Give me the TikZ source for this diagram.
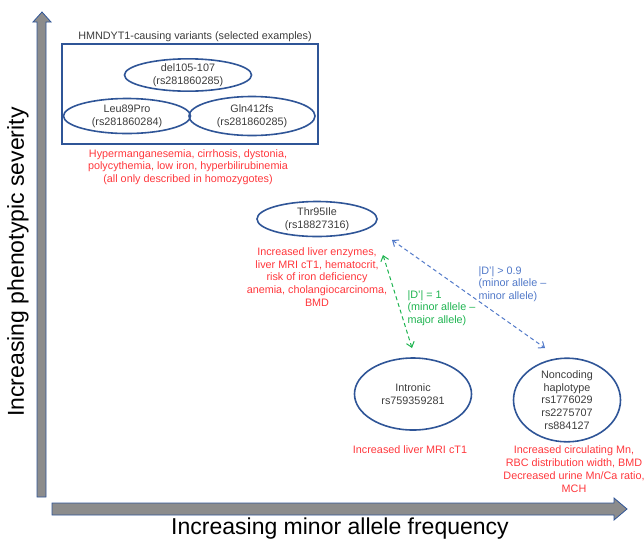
\documentclass[tikz,border=0pt]{standalone}
\usepackage{fontspec}
\setmainfont{Liberation Sans}
\usetikzlibrary{shapes.geometric,arrows.meta}
\definecolor{dblue}{RGB}{47,85,151}
\definecolor{txtred}{RGB}{255,55,60}
\definecolor{dgreen}{RGB}{30,180,80}
\definecolor{lblue}{RGB}{80,120,200}
\definecolor{axgray}{RGB}{140,140,140}
\definecolor{txtgray}{RGB}{60,60,60}
\tikzset{
  variant/.style={ellipse, draw=dblue, line width=1.6pt, inner sep=0pt, align=center, text=txtgray, font=\fontsize{10.8}{12.8}\selectfont},
  redtxt/.style={text=txtred, align=center, font=\fontsize{10.8}{12.8}\selectfont},
  ldlabel/.style={align=left, anchor=west, font=\fontsize{10.8}{12.6}\selectfont},
  ldarrow/.style={dashed, line width=1pt, dash pattern=on 4pt off 3pt, {Straight Barb[length=5pt,width=8pt]}-{Straight Barb[length=5pt,width=8pt]}},
  axis/.style={fill=axgray, draw=dblue, line width=0.8pt},
  axlabel/.style={font=\fontsize{23}{27}\selectfont, text=black}
}
\begin{document}
\begin{tikzpicture}[x=1pt,y=-1pt]
\useasboundingbox (0,0) rectangle (644,542);
% axes
\draw[axis] (37,497) -- (37,22) -- (33,22) -- (42,12) -- (51,22) -- (46,22) -- (46,497) -- cycle;
\draw[axis] (52,503) -- (614,503) -- (614,498) -- (627,509) -- (614,520) -- (614,515) -- (52,515) -- cycle;
\node[axlabel, rotate=90] (ylab) at (18,262) {Increasing phenotypic severity};
\node[axlabel] (xlab) at (340,529) {Increasing minor allele frequency};
% HMNDYT1 box
\node[font=\fontsize{10.8}{12}\selectfont, text=txtgray] (title) at (195,37) {HMNDYT1-causing variants (selected examples)};
\node[draw=dblue, line width=1.6pt, minimum width=256pt, minimum height=100pt, inner sep=0pt] (box) at (190,94) {};
\node[variant, minimum width=127pt, minimum height=31pt] (del) at (188,75) {del105-107\\(rs281860285)};
\node[variant, minimum width=127pt, minimum height=35pt] (leu) at (127,116) {Leu89Pro\\(rs281860284)};
\node[variant, minimum width=126pt, minimum height=39pt] (gln) at (252,116) {Gln412fs\\(rs281860285)};
\node[redtxt] (hmtxt) at (188,167) {Hypermanganesemia, cirrhosis, dystonia,\\polycythemia, low iron, hyperbilirubinemia\\(all only described in homozygotes)};
% Thr95Ile
\node[variant, minimum width=120pt, minimum height=35pt] (thr) at (317,219) {Thr95Ile\\(rs18827316)};
\node[redtxt] (thrtxt) at (317,277) {Increased liver enzymes,\\liver MRI cT1, hematocrit,\\risk of iron deficiency\\anemia, cholangiocarcinoma,\\BMD};
% Intronic
\node[variant, minimum width=117pt, minimum height=72pt] (intr) at (413,394) {Intronic\\rs759359281};
\node[redtxt] (intrtxt) at (410,450) {Increased liver MRI cT1};
% Noncoding
\node[variant, minimum width=107pt, minimum height=76pt] (nonc) at (567,400) {Noncoding\\haplotype\\rs1776029\\rs2275707\\rs884127};
\node[redtxt] (nonctxt) at (574,469) {Increased circulating Mn,\\RBC distribution width, BMD\\Decreased urine Mn/Ca ratio,\\MCH};
% LD arrows
\coordinate (gA) at (383,255);
\coordinate (gB) at (412,348);
\coordinate (bA) at (392,240);
\coordinate (bB) at (545,348);
\draw[ldarrow, draw=dgreen] (gA) -- (gB);
\draw[ldarrow, draw=lblue] (bA) -- (bB);
\node[ldlabel, text=dgreen] (glab) at (404,308) {|D'| = 1\\(minor allele –\\major allele)};
\node[ldlabel, text=lblue] (blab) at (475,284) {|D'| > 0.9\\(minor allele –\\minor allele)};
\end{tikzpicture}
\end{document}
